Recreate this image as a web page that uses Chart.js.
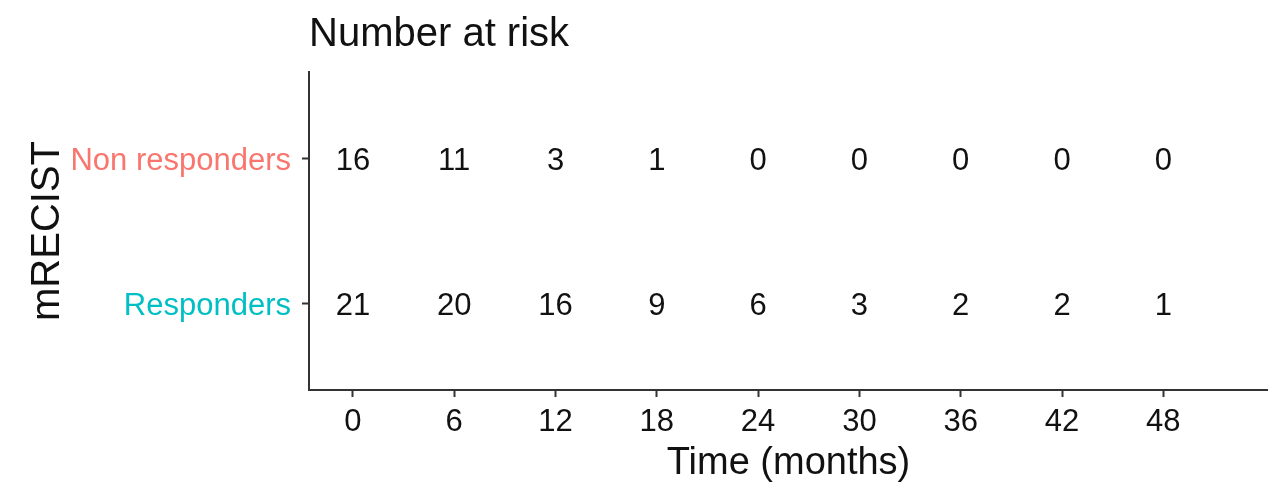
<!DOCTYPE html>
<html>
<head>
<meta charset="utf-8">
<script src="https://cdn.jsdelivr.net/npm/chart.js@4/dist/chart.umd.min.js"></script>
<style>
  html, body { margin: 0; padding: 0; background: #fff; }
  #wrap { width: 1268px; height: 485px; }
</style>
</head>
<body>
<div id="wrap"><canvas id="riskChart" width="1268" height="485"></canvas></div>
<script>
// Number at risk table
const times = [0, 6, 12, 18, 24, 30, 36, 42, 48];
const groups = ['Responders', 'Non responders'];
const groupColors = ['#00BFC4', '#F8766D'];
const responders = [21, 20, 16, 9, 6, 3, 2, 2, 1];
const nonResponders = [16, 11, 3, 1, 0, 0, 0, 0, 0];

const FONT = "'Liberation Sans', Arial, sans-serif";
const AXIS = '#333333';

function rowPoints(values, row) {
    return values.map(function(v, i) { return { x: times[i], y: row }; });
}

// write the counts at each point instead of drawing markers
const riskLabels = {
    id: 'riskLabels',
    afterDatasetsDraw: function(chart) {
        const ctx = chart.ctx;
        ctx.save();
        ctx.font = '31px ' + FONT;
        ctx.fillStyle = '#111111';
        ctx.textAlign = 'center';
        ctx.textBaseline = 'middle';
        chart.data.datasets.forEach(function(ds, di) {
            const meta = chart.getDatasetMeta(di);
            meta.data.forEach(function(pt, i) {
                ctx.fillText(String(ds.counts[i]), pt.x, pt.y + 3);
            });
        });
        ctx.restore();
    }
};

const ctx = document.getElementById('riskChart');
new Chart(ctx, {
    type: 'scatter',
    data: {
        datasets: [
            { label: groups[0], data: rowPoints(responders, 1), counts: responders, pointRadius: 0 },
            { label: groups[1], data: rowPoints(nonResponders, 2), counts: nonResponders, pointRadius: 0 }
        ]
    },
    options: {
        responsive: false,
        animation: false,
        layout: { padding: 0 },
        plugins: {
            legend: { display: false },
            tooltip: { enabled: false },
            title: {
                display: true,
                text: 'Number at risk',
                align: 'start',
                fullSize: false,
                color: '#111111',
                font: { family: FONT, size: 40, weight: 'normal', lineHeight: 1.2 },
                padding: { top: 11, bottom: 13 }
            }
        },
        scales: {
            x: {
                type: 'linear',
                min: -2.6,
                max: 54.2,
                afterBuildTicks: function(scale) {
                    scale.ticks = times.map(function(t) { return { value: t }; });
                },
                afterFit: function(scale) { scale.height = 95; },
                border: { display: true, color: AXIS, width: 2 },
                grid: { display: true, drawOnChartArea: false, tickLength: 7, tickColor: AXIS, tickWidth: 2 },
                ticks: {
                    color: '#111111',
                    font: { family: FONT, size: 31 },
                    padding: 7,
                    maxRotation: 0
                },
                title: {
                    display: true,
                    text: 'Time (months)',
                    color: '#111111',
                    font: { family: FONT, size: 38, lineHeight: 1.12 },
                    padding: { top: 0, bottom: 0 }
                }
            },
            y: {
                type: 'linear',
                min: 0.4,
                max: 2.6,
                afterBuildTicks: function(scale) {
                    scale.ticks = groups.map(function(g, i) { return { value: i + 1 }; });
                },
                afterFit: function(scale) { scale.width = 309; },
                border: { display: true, color: AXIS, width: 2 },
                grid: { display: true, drawOnChartArea: false, tickLength: 7, tickColor: AXIS, tickWidth: 2 },
                ticks: {
                    font: { family: FONT, size: 31 },
                    padding: 11,
                    labelOffset: 3,
                    color: function(c) { return groupColors[c.tick.value - 1]; },
                    callback: function(v) { return groups[v - 1]; }
                },
                title: {
                    display: true,
                    text: 'mRECIST',
                    color: '#111111',
                    font: { family: FONT, size: 40 },
                    padding: { top: 24, bottom: 0 }
                }
            }
        }
    },
    plugins: [riskLabels]
});
</script>
</body>
</html>
